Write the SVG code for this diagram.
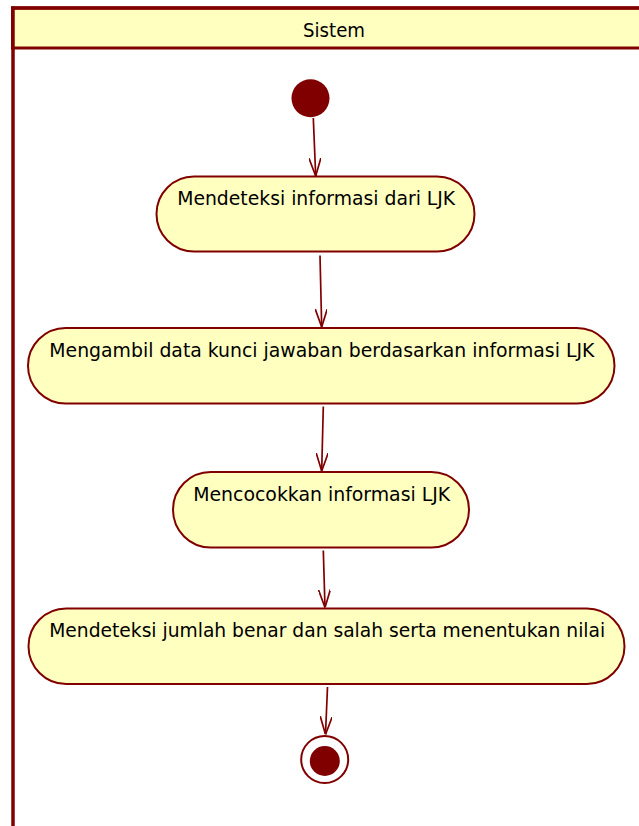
<svg xmlns="http://www.w3.org/2000/svg" width="639" height="826" viewBox="0 0 639 826">
  <defs>
    <style>
      .lane { fill: none; stroke: #800000; stroke-width: 3.5; }
      .head { fill: #FFFFC0; stroke: #800000; stroke-width: 3; }
      .act { fill: #FFFFC0; stroke: #800000; stroke-width: 2; }
      .flow { fill: none; stroke: #800000; stroke-width: 1.7; }
      .lbl { font-family: "DejaVu Sans Condensed", "DejaVu Sans", sans-serif; font-size: 20px; fill: #000000; }
      .solid { fill: #800000; }
    </style>
    <marker id="open" viewBox="0 0 18 12" refX="18" refY="6" markerWidth="18" markerHeight="12" markerUnits="userSpaceOnUse" orient="auto">
      <path d="M0,0 L18,6 L0,12" fill="none" stroke="#800000" stroke-width="1.7"/>
    </marker>
  </defs>

  <!-- swimlane "Sistem" -->
  <g id="lane-sistem">
    <rect class="head" x="12.5" y="8" width="640" height="40"/>
    <line class="lane" x1="13" y1="6.5" x2="13" y2="826"/>
    <line class="lane" x1="11" y1="8" x2="639" y2="8"/>
    <text class="lbl" x="334" y="36.5" text-anchor="middle" textLength="62" lengthAdjust="spacingAndGlyphs">Sistem</text>
  </g>

  <!-- connectors -->
  <g id="connectors">
    <line class="flow" x1="313.3" y1="118" x2="315.7" y2="176" marker-end="url(#open)"/>
    <line class="flow" x1="320" y1="255.5" x2="321.7" y2="327" marker-end="url(#open)"/>
    <line class="flow" x1="323.3" y1="406.5" x2="321.7" y2="471" marker-end="url(#open)"/>
    <line class="flow" x1="323.3" y1="550.5" x2="325" y2="607.5" marker-end="url(#open)"/>
    <line class="flow" x1="327.5" y1="687" x2="325.5" y2="734.5" marker-end="url(#open)"/>
  </g>

  <!-- start node -->
  <g id="start">
    <circle class="solid" cx="310.5" cy="98.3" r="19"/>
  </g>

  <g id="act-deteksi-info">
    <rect class="act" x="156.5" y="176.5" width="318" height="75" rx="37.5" ry="37.5"/>
    <text class="lbl" x="316.2" y="205" text-anchor="middle" textLength="278" lengthAdjust="spacingAndGlyphs">Mendeteksi informasi dari LJK</text>
  </g>

  <g id="act-ambil-kunci">
    <rect class="act" x="28" y="328" width="586.5" height="75.5" rx="37.7" ry="37.7"/>
    <text class="lbl" x="321.8" y="356.5" text-anchor="middle" textLength="545" lengthAdjust="spacingAndGlyphs">Mengambil data kunci jawaban berdasarkan informasi LJK</text>
  </g>

  <g id="act-cocokkan">
    <rect class="act" x="173" y="472" width="296" height="75.5" rx="37.7" ry="37.7"/>
    <text class="lbl" x="321.7" y="501" text-anchor="middle" textLength="257" lengthAdjust="spacingAndGlyphs">Mencocokkan informasi LJK</text>
  </g>

  <g id="act-nilai">
    <rect class="act" x="28.5" y="608.5" width="596" height="75.5" rx="37.7" ry="37.7"/>
    <text class="lbl" x="327.2" y="637.3" text-anchor="middle" textLength="556" lengthAdjust="spacingAndGlyphs">Mendeteksi jumlah benar dan salah serta menentukan nilai</text>
  </g>

  <!-- end node -->
  <g id="end">
    <circle cx="324.7" cy="759.5" r="23.5" fill="#FFFFFF" stroke="#800000" stroke-width="2"/>
    <circle class="solid" cx="324.8" cy="761" r="15"/>
  </g>
</svg>
